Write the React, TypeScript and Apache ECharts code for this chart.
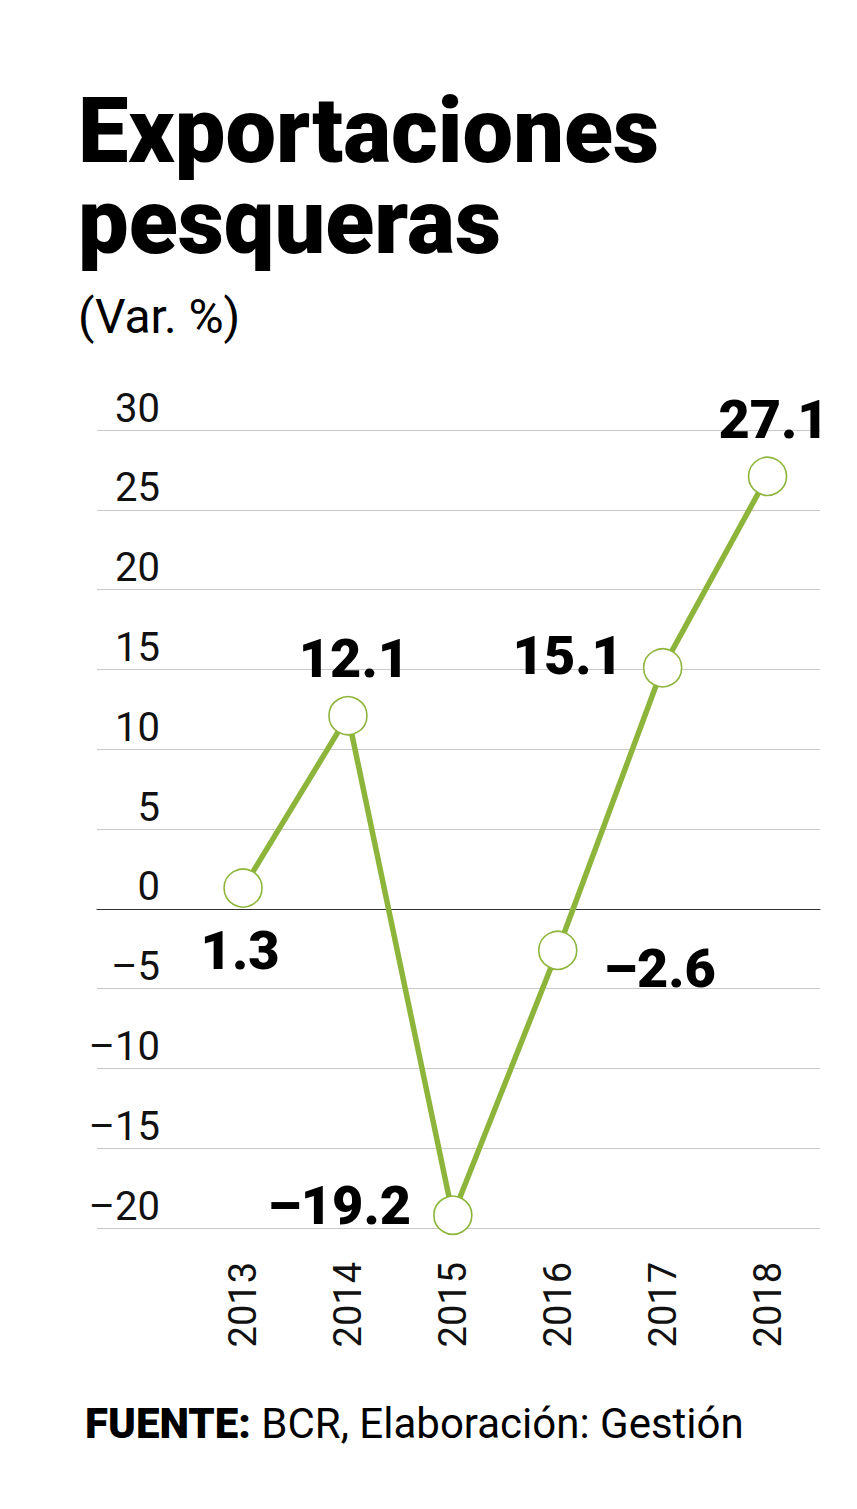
import React, { useEffect, useRef } from "react";
import * as echarts from "echarts";

const years = ["2013", "2014", "2015", "2016", "2017", "2018"];
const values = [1.3, 12.1, -19.2, -2.6, 15.1, 27.1];
const yMin = -20;
const yMax = 30;
const yStep = 5;

const titleLines = ["Exportaciones", "pesqueras"];
const subtitle = "(Var. %)";
const sourceBold = "FUENTE:";
const sourceText = " BCR, Elaboración: Gestión";

const GREEN = "#8db53c";
const FONT = "Roboto, 'Noto Sans', sans-serif";

const dash = (v: number | string) => String(v).replace("-", "–");

export default function App() {
  const ref = useRef<HTMLDivElement>(null);

  useEffect(() => {
    document.body.style.margin = "0";
    if (!ref.current) return;
    const chart = echarts.init(ref.current, null, { renderer: "svg" });

    const labelPlacement: any[] = [
      { position: "bottom", distance: 16, offset: [-3, 0] },
      { position: "top", distance: 10, offset: [6, 0] },
      { position: "left", distance: 22, offset: [0, -10] },
      { position: "right", distance: 26, offset: [0, 18] },
      { position: "left", distance: 20, offset: [0, -12] },
      { position: "top", distance: 10, offset: [6, 0] },
    ];

    const seriesData = values.map((v, i) => ({
      value: v,
      label: { show: true, ...labelPlacement[i] },
    }));

    chart.setOption({
      animation: false,
      backgroundColor: "#ffffff",
      textStyle: { fontFamily: FONT },
      grid: [
        { left: 97, right: 37, top: 430, height: 798 },
        { left: 190.6, right: 37, top: 430, height: 798 },
      ],
      xAxis: [
        {
          gridIndex: 0,
          type: "value",
          min: 0,
          max: 1,
          axisLine: { show: true, onZero: true, lineStyle: { color: "#333", width: 1.2 } },
          axisTick: { show: false },
          axisLabel: { show: false },
          splitLine: { show: false },
        },
        {
          gridIndex: 1,
          type: "category",
          data: years,
          boundaryGap: true,
          axisLine: { show: false },
          axisTick: { show: false },
          axisLabel: {
            rotate: 90,
            margin: 34,
            fontSize: 38,
            color: "#111",
            fontFamily: FONT,
          },
          splitLine: { show: false },
        },
      ],
      yAxis: [
        {
          gridIndex: 0,
          type: "value",
          min: yMin,
          max: yMax,
          interval: yStep,
          axisLine: { show: false },
          axisTick: { show: false },
          splitLine: { show: true, lineStyle: { color: "#c8c8c8", width: 1 } },
          axisLabel: {
            inside: true,
            align: "right",
            verticalAlign: "bottom",
            margin: 63,
            fontSize: 40,
            lineHeight: 44,
            color: "#111",
            fontFamily: FONT,
            formatter: (v: number) => dash(v),
          },
        },
        {
          gridIndex: 1,
          type: "value",
          min: yMin,
          max: yMax,
          interval: yStep,
          show: false,
          splitLine: { show: false },
        },
      ],
      series: [
        {
          type: "line",
          xAxisIndex: 1,
          yAxisIndex: 1,
          data: seriesData,
          symbol: "circle",
          symbolSize: 38,
          showAllSymbol: true,
          lineStyle: { color: GREEN, width: 5.5 },
          itemStyle: { color: "#ffffff", borderColor: GREEN, borderWidth: 1.6 },
          label: {
            show: true,
            fontSize: 54,
            fontWeight: 900,
            color: "#000",
            fontFamily: FONT,
            formatter: (p: any) => dash(p.value),
          },
          z: 3,
        },
      ],
      graphic: [
        {
          type: "text",
          left: 78,
          top: 86,
          style: {
            text: titleLines.join("\n"),
            font: `900 90px ${FONT}`,
            lineHeight: 91,
            fill: "#000",
          },
        },
        {
          type: "text",
          left: 78,
          top: 292,
          style: {
            text: subtitle,
            font: `400 48px ${FONT}`,
            fill: "#000",
          },
        },
        {
          type: "text",
          left: 85,
          top: 1402,
          style: {
            text: `{b|${sourceBold}}{n|${sourceText}}`,
            rich: {
              b: { fontFamily: FONT, fontWeight: 900, fontSize: 42, fill: "#000" },
              n: { fontFamily: FONT, fontWeight: 400, fontSize: 42, fill: "#000" },
            },
          },
        },
      ],
    });

    return () => chart.dispose();
  }, []);

  return <div ref={ref} style={{ width: 857, height: 1509 }} />;
}
